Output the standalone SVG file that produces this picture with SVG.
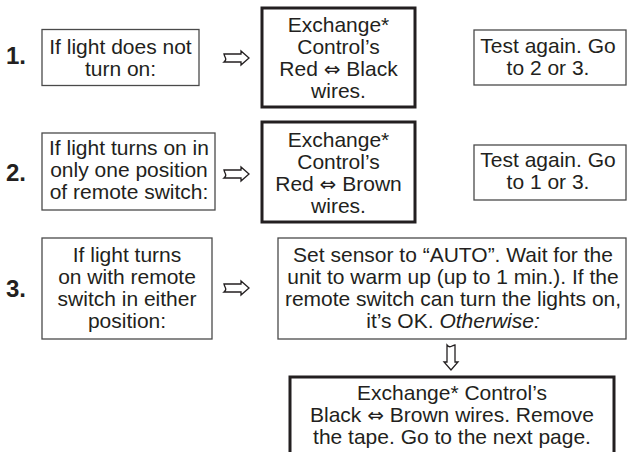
<svg xmlns="http://www.w3.org/2000/svg" xmlns:xlink="http://www.w3.org/1999/xlink" width="627" height="452" viewBox="0 0 627 452">
<style>
.t{font-family:"Liberation Sans",Arial,"DejaVu Sans",sans-serif;font-size:21px;fill:#231f20;text-anchor:middle}
.n{font-family:"Liberation Sans",Arial,sans-serif;font-size:24px;font-weight:bold;fill:#231f20}
.s{font-family:"DejaVu Sans",sans-serif;font-size:20px}
.thin{fill:#fff;stroke:#4a4a4a;stroke-width:1.3}
.thick{fill:#fff;stroke:#231f20;stroke-width:3}
.arr{fill:#fff;stroke:#231f20;stroke-width:1.3;stroke-linejoin:miter}
</style>
<defs>
<path id="ra" d="M0,-4 L17,-4 L17,-7 L25,0 L17,7 L17,4 L0,4 Q2.5,2 1.5,0 Q0.5,-2 0,-4 Z"/>
</defs>
<rect width="627" height="452" fill="#fff"/>

<text class="n" x="6" y="64">1.</text>
<text class="n" x="6" y="181">2.</text>
<text class="n" x="6" y="297">3.</text>

<g id="n1a">
<rect class="thin" x="42" y="29.5" width="157" height="56"/>
<text class="t" x="120.5" y="54">If light does not</text>
<text class="t" x="120.5" y="76">turn on:</text>
</g>
<g id="n1b">
<rect class="thick" x="262" y="8" width="153" height="99"/>
<text class="t" x="338.5" y="32">Exchange*</text>
<text class="t" x="338.5" y="54">Control’s</text>
<text class="t" x="338.5" y="76">Red <tspan class="s">⇔</tspan> Black</text>
<text class="t" x="338.5" y="98">wires.</text>
</g>
<g id="n1c">
<rect class="thin" x="474" y="30" width="152" height="55"/>
<text class="t" x="548" y="53">Test again. Go</text>
<text class="t" x="548" y="75">to 2 or 3.</text>
</g>

<g id="n2a">
<rect class="thin" x="42" y="133" width="173" height="77"/>
<text class="t" x="129" y="155">If light turns on in</text>
<text class="t" x="129" y="177">only one position</text>
<text class="t" x="129" y="199">of remote switch:</text>
</g>
<g id="n2b">
<rect class="thick" x="262" y="122" width="153" height="100"/>
<text class="t" x="338.5" y="146.5">Exchange*</text>
<text class="t" x="338.5" y="168.5">Control’s</text>
<text class="t" x="338.5" y="190.5">Red <tspan class="s">⇔</tspan> Brown</text>
<text class="t" x="338.5" y="212.5">wires.</text>
</g>
<g id="n2c">
<rect class="thin" x="474" y="145" width="152" height="55"/>
<text class="t" x="548" y="167">Test again. Go</text>
<text class="t" x="548" y="189">to 1 or 3.</text>
</g>

<g id="n3a">
<rect class="thin" x="42" y="238" width="170" height="101"/>
<text class="t" x="127" y="262">If light turns</text>
<text class="t" x="127" y="284">on with remote</text>
<text class="t" x="127" y="306">switch in either</text>
<text class="t" x="127" y="328">position:</text>
</g>
<g id="n3b">
<rect class="thin" x="278" y="238" width="348" height="101"/>
<text class="t" x="453" y="262">Set sensor to “AUTO”. Wait for the</text>
<text class="t" x="453" y="284">unit to warm up (up to 1 min.). If the</text>
<text class="t" x="453" y="306">remote switch can turn the lights on,</text>
<text class="t" x="453" y="328">it’s OK. <tspan font-style="italic">Otherwise:</tspan></text>
</g>
<g id="n4">
<path class="thick" d="M290,460 L290,377 L614,377 L614,460"/>
<text class="t" x="452" y="400">Exchange* Control’s</text>
<text class="t" x="452" y="422">Black <tspan class="s">⇔</tspan> Brown wires. Remove</text>
<text class="t" x="452" y="444">the tape. Go to the next page.</text>
</g>

<g id="connectors">
<use xlink:href="#ra" class="arr" transform="translate(224,58)"/>
<use xlink:href="#ra" class="arr" transform="translate(224,174)"/>
<use xlink:href="#ra" class="arr" transform="translate(224,288)"/>
<use xlink:href="#ra" class="arr" transform="translate(451,345) rotate(90)"/>
</g>
</svg>
